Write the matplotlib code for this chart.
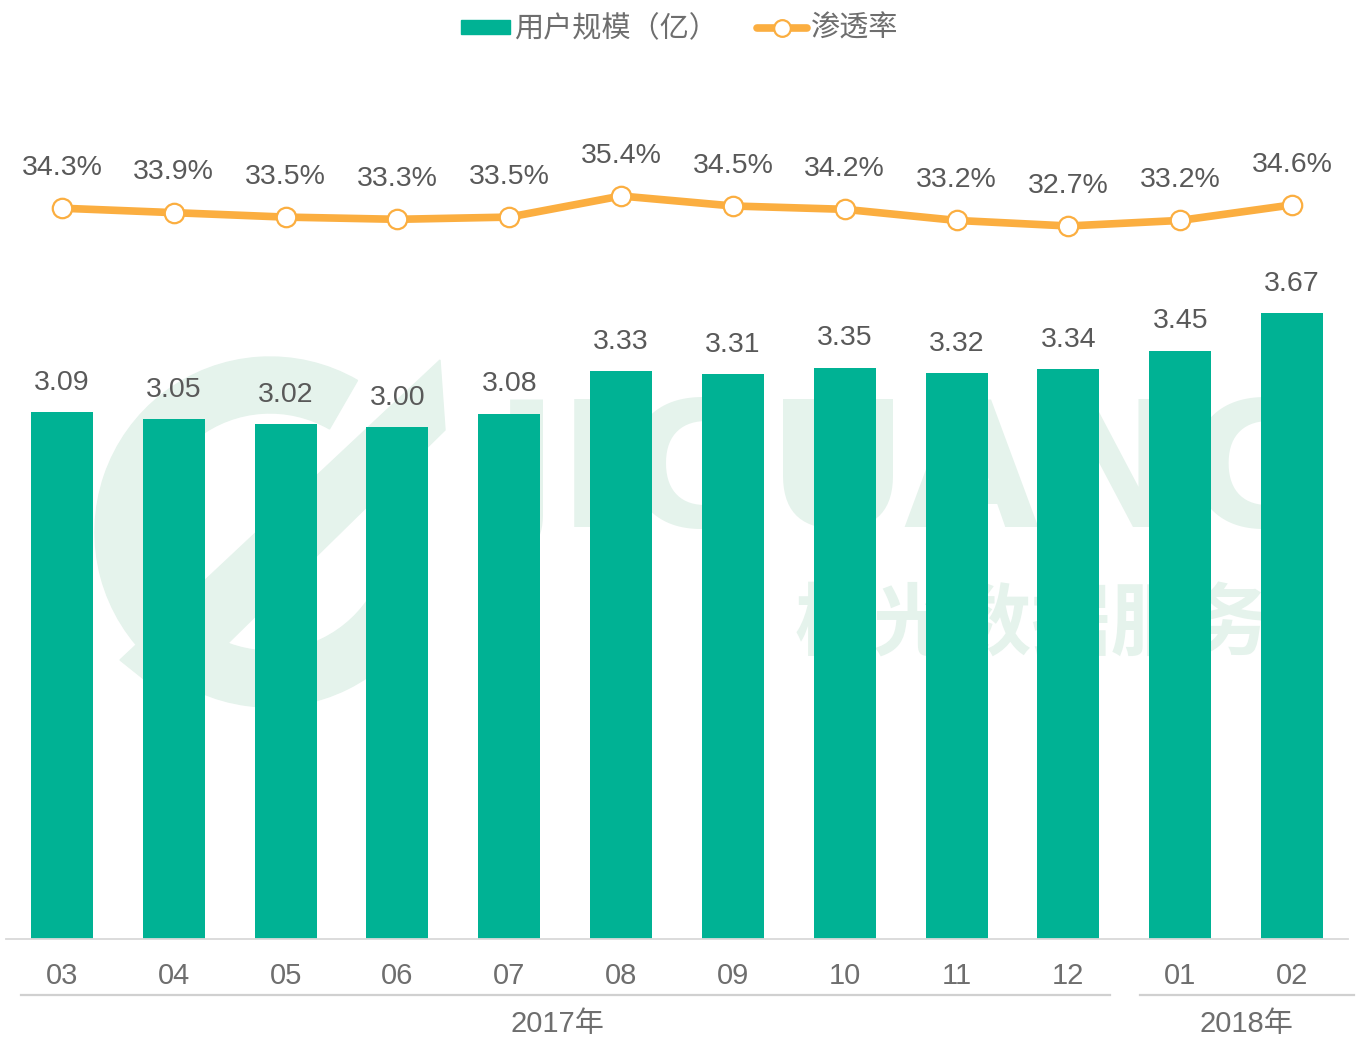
import matplotlib.pyplot as plt
from matplotlib.patches import Rectangle, Wedge, Polygon
from matplotlib.lines import Line2D

# data
months = ['03', '04', '05', '06', '07', '08', '09', '10', '11', '12', '01', '02']
users = [3.09, 3.05, 3.02, 3.00, 3.08, 3.33, 3.31, 3.35, 3.32, 3.34, 3.45, 3.67]
penetration = [34.3, 33.9, 33.5, 33.3, 33.5, 35.4, 34.5, 34.2, 33.2, 32.7, 33.2, 34.6]
years = ['2017年', '2018年']
year_groups = [(0, 9), (10, 11)]
legend_labels = ['用户规模（亿）', '渗透率']

GREEN = '#00b294'
ORANGE = '#fbae40'
LABEL = '#595959'
AXIS_TEXT = '#6e6e6e'
LINE = '#d9d9d9'
WM = '#e5f3ec'

plt.rcParams['font.family'] = ['Liberation Sans', 'Noto Sans CJK SC', 'DejaVu Sans']
W, H = 1357, 1039

fig = plt.figure(figsize=(W / 100, H / 100), dpi=100)

# faint watermark behind the chart
fig.patches.append(Wedge((2.70, (H - 532) / 100), 1.75, 60, 330, width=0.56,
                         color=WM, transform=fig.dpi_scale_trans, zorder=-2))
fig.patches.append(Polygon([(1.20, (H - 660) / 100), (4.40, (H - 360) / 100),
                            (4.45, (H - 430) / 100), (1.70, (H - 700) / 100)],
                           closed=True, color=WM, transform=fig.dpi_scale_trans, zorder=-2))
fig.text(912 / W, 1 - 478 / H, 'JIGUANG', fontsize=126, fontweight='bold', color=WM,
         ha='center', va='center', family='DejaVu Sans', zorder=-2)
fig.text(1032 / W, 1 - 625 / H, '极光数据服务', fontsize=57, fontweight='bold', color=WM,
         ha='center', va='center', family='Noto Sans CJK SC', zorder=-2)

ax = fig.add_axes([6 / W, 100 / H, 1342 / W, 839 / H])
ax.patch.set_visible(False)
x = list(range(len(months)))
ax.bar(x, users, width=0.555, color=GREEN, zorder=2)
ax.set_xlim(-0.5, 11.5)
ax.set_ylim(0, 4.919)

ax2 = ax.twinx()
ax2.patch.set_visible(False)
ax2.plot(x, penetration, color=ORANGE, lw=5.5, marker='o', ms=14,
         mfc='white', mec=ORANGE, mew=1.6, zorder=3, solid_capstyle='round')
ax2.set_ylim(-31.48, 44.04)

for a in (ax, ax2):
    for s in a.spines.values():
        s.set_visible(False)
    a.set_yticks([])
ax.spines['bottom'].set_visible(True)
ax.spines['bottom'].set_color(LINE)
ax.spines['bottom'].set_linewidth(1.3)
ax.set_xticks(x)
ax.set_xticklabels([])
ax.tick_params(axis='x', length=0)

for i, v in enumerate(users):
    ax.annotate(f'{v:.2f}', (i, v), xytext=(0, 21), textcoords='offset points',
                ha='center', va='center', fontsize=20.5, color=LABEL)
for i, p in enumerate(penetration):
    ax2.annotate(f'{p:.1f}%', (i, p), xytext=(0, 29), textcoords='offset points',
                 ha='center', va='center', fontsize=20.5, color=LABEL)

# category axis: months, then year groups
xt = ax.get_xaxis_transform()
for i, m in enumerate(months):
    ax.text(i, -37 / 839, m, transform=xt, ha='center', va='center',
            fontsize=21, color=AXIS_TEXT)
pads = [(0.37, 0.37), (0.36, 0.55)]
shifts = [-0.07, 0.0]
for (a, b), (pl, pr), dx, yr in zip(year_groups, pads, shifts, years):
    ax.plot([a - pl, b + pr], [-56 / 839] * 2, transform=xt, clip_on=False,
            color='#d0d0d0', lw=1.6)
    ax.text((a - pl + b + pr) / 2 + dx, -85 / 839, yr, transform=xt, ha='center',
            va='center', fontsize=21, color=AXIS_TEXT)

# legend
fig.patches.append(Rectangle((461 / W, 1 - 34 / H), 49 / W, 14 / H,
                             color=GREEN, transform=fig.transFigure))
fig.text(514 / W, 1 - 29 / H, legend_labels[0], fontsize=21, color=AXIS_TEXT,
         ha='left', va='center', family='Noto Sans CJK SC')
fig.lines.append(Line2D([757 / W, 807 / W], [1 - 28 / H] * 2, color=ORANGE, lw=5.5,
                        transform=fig.transFigure, solid_capstyle='round'))
fig.lines.append(Line2D([782 / W], [1 - 28 / H], marker='o', ms=12, mfc='white',
                        mec=ORANGE, mew=1.6, transform=fig.transFigure))
fig.text(811 / W, 1 - 29 / H, legend_labels[1], fontsize=21, color=AXIS_TEXT,
         ha='left', va='center', family='Noto Sans CJK SC')

fig.savefig('out.png', dpi=100)
